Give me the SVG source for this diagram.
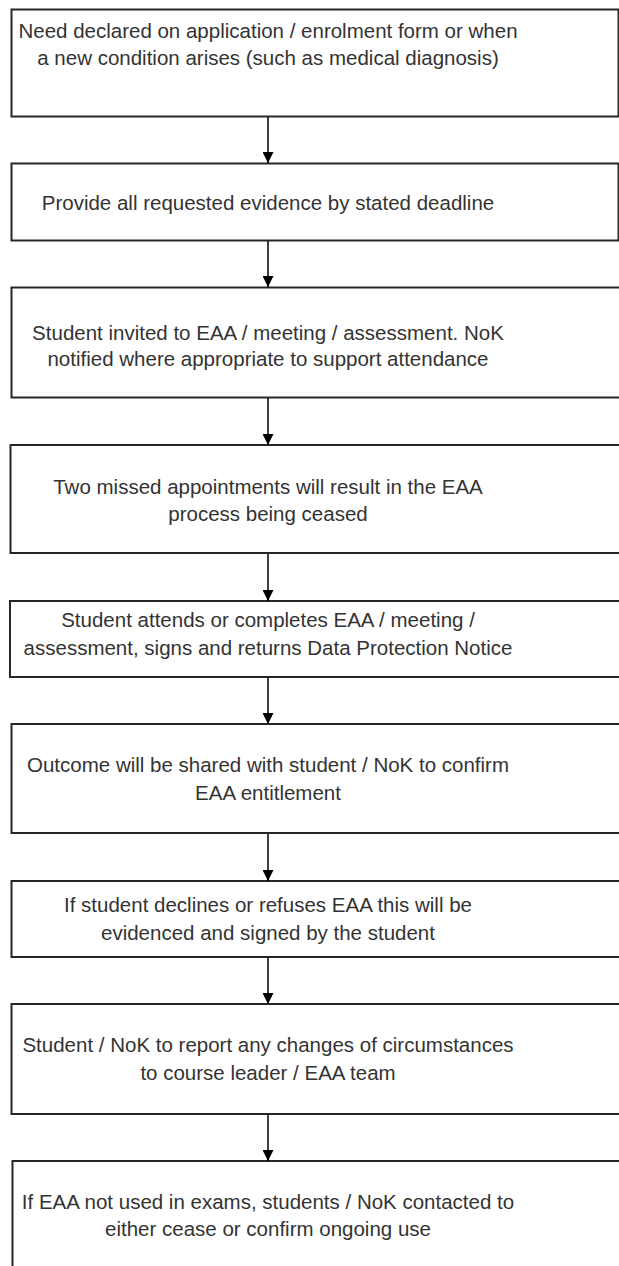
<svg xmlns="http://www.w3.org/2000/svg" width="619" height="1266" viewBox="0 0 619 1266">
<defs>
<style>
.box{fill:#ffffff;stroke:#262626;stroke-width:2}
.lbl{font-family:"Liberation Sans",Arial,sans-serif;font-size:20.5px;fill:#333333;text-anchor:middle}
.conn{stroke:#000000;stroke-width:1.5;fill:none}
</style>
<marker id="arr" markerWidth="11" markerHeight="11" viewBox="0 0 11 11" refX="11" refY="5.5" orient="auto" markerUnits="userSpaceOnUse">
<path d="M0,0 L11,5.5 L0,11 Z" fill="#000000"/>
</marker>
</defs>
<rect width="619" height="1266" fill="#ffffff"/>
<g id="n1"><rect class="box" x="11.5" y="9.5" width="607" height="107"/>
<text class="lbl" x="268" y="37.5">Need declared on application / enrolment form or when</text>
<text class="lbl" x="268" y="64.5">a new condition arises (such as medical diagnosis)</text></g>
<g id="n2"><rect class="box" x="11.5" y="163.5" width="607" height="77"/>
<text class="lbl" x="268" y="210">Provide all requested evidence by stated deadline</text></g>
<g id="n3"><rect class="box" x="11.5" y="287.5" width="615" height="110"/>
<text class="lbl" x="268" y="339.5">Student invited to EAA / meeting / assessment. NoK</text>
<text class="lbl" x="268" y="366">notified where appropriate to support attendance</text></g>
<g id="n4"><rect class="box" x="10.5" y="445" width="615" height="108"/>
<text class="lbl" x="268" y="493.5">Two missed appointments will result in the EAA</text>
<text class="lbl" x="268" y="520.5">process being ceased</text></g>
<g id="n5"><rect class="box" x="10" y="601" width="615" height="76"/>
<text class="lbl" x="268" y="627">Student attends or completes EAA / meeting /</text>
<text class="lbl" x="268" y="654.5">assessment, signs and returns Data Protection Notice</text></g>
<g id="n6"><rect class="box" x="11.5" y="724" width="615" height="109"/>
<text class="lbl" x="268" y="772">Outcome will be shared with student / NoK to confirm</text>
<text class="lbl" x="268" y="799.5">EAA entitlement</text></g>
<g id="n7"><rect class="box" x="11.5" y="881" width="615" height="76"/>
<text class="lbl" x="268" y="912">If student declines or refuses EAA this will be</text>
<text class="lbl" x="268" y="939.5">evidenced and signed by the student</text></g>
<g id="n8"><rect class="box" x="11.5" y="1004" width="615" height="110"/>
<text class="lbl" x="268" y="1052">Student / NoK to report any changes of circumstances</text>
<text class="lbl" x="268" y="1080">to course leader / EAA team</text></g>
<g id="n9"><rect class="box" x="12.5" y="1161" width="615" height="120"/>
<text class="lbl" x="268" y="1208.5">If EAA not used in exams, students / NoK contacted to</text>
<text class="lbl" x="268" y="1236">either cease or confirm ongoing use</text></g>
<g id="connectors">
<line class="conn" x1="268" y1="117" x2="268" y2="163" marker-end="url(#arr)"/>
<line class="conn" x1="268" y1="241" x2="268" y2="287" marker-end="url(#arr)"/>
<line class="conn" x1="268" y1="398" x2="268" y2="445" marker-end="url(#arr)"/>
<line class="conn" x1="268" y1="554" x2="268" y2="601" marker-end="url(#arr)"/>
<line class="conn" x1="268" y1="677" x2="268" y2="724" marker-end="url(#arr)"/>
<line class="conn" x1="268" y1="834" x2="268" y2="881" marker-end="url(#arr)"/>
<line class="conn" x1="268" y1="957" x2="268" y2="1004" marker-end="url(#arr)"/>
<line class="conn" x1="268" y1="1114" x2="268" y2="1161" marker-end="url(#arr)"/>
</g>
</svg>
